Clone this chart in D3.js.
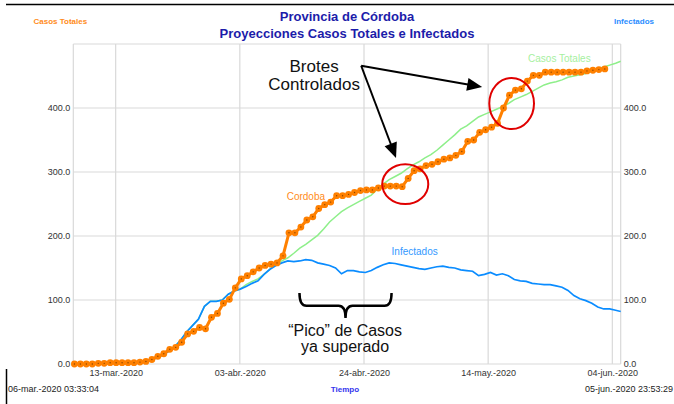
<!DOCTYPE html>
<html><head><meta charset="utf-8">
<script src="https://cdn.jsdelivr.net/npm/d3@7"></script>
<style>
html,body{margin:0;padding:0;background:#fff;}
svg{display:block;font-family:"Liberation Sans",Arial,Helvetica,sans-serif;}
</style></head>
<body>
<svg id="chart" width="674" height="404"></svg>
<script>
// ---------- DATA ----------
const startTime = "2020-03-06T03:33:04";
const endTime = "2020-06-05T23:53:29";
const startLabel = "06-mar.-2020 03:33:04";
const endLabel = "05-jun.-2020 23:53:29";

const xTickDates = ["2020-03-13T06:10","2020-04-03T02:10","2020-04-23T22:10","2020-05-14T18:10","2020-06-04T14:10"];
const xTickLabels = ["13-mar.-2020","03-abr.-2020","24-abr.-2020","14-may.-2020","04-jun.-2020"];
const yTicks = [0,100,200,300,400];

// Observed daily cumulative cases, Córdoba (one point per day from 06-mar)
const cordobaFirstDay = "2020-03-06T08:00";
const cordoba = [0,0,0,0,1,1,2,2,2,2,2,3,4,7,12,16,23,26,34,47,51,57,55,73,79,95,101,119,133,138,
  144,150,154,156,158,169,205,205,214,225,230,243,249,253,263,263,265,268,271,272,
  272,275,278,278,278,277,290,302,305,310,312,316,320,322,326,332,348,350,362,366,
  370,376,400,420,428,430,442,451,451,456,456,456,456,456,456,456,458,459,460,461];

// Model projections (daily, from 06-mar, last value at end of run)
const modelDays = [0,1,2,3,4,5,6,7,8,9,10,11,12,13,14,15,16,17,18,19,20,21,22,23,24,25,26,27,28,29,
  30,31,32,33,34,35,36,37,38,39,40,41,42,43,44,45,46,47,48,49,50,51,52,53,54,55,56,57,58,59,
  60,61,62,63,64,65,66,67,68,69,70,71,72,73,74,75,76,77,78,79,80,81,82,83,84,85,86,87,88,89,90,91,91.85];
const infectados = [0,0,0,0,0,1,1,1,2,2,2,3,4,6,10,14,20,27,37,50,60,70,90,98,98,100,109,114,117,121,
  126,130,140,148,154,158,161,160,161,163,162,158,156,154,150,141,146,146,144,143,
  146,151,155,158,157,155,153,151,149,148,150,152,153,151,150,147,146,145,138,140,
  143,139,141,138,132,130,129,126,125,124,124,122,120,115,107,102,99,95,89,86,86,84,82];
const casosTotales = [0,0,0,0,0,1,1,1,2,2,2,3,4,6,10,14,20,27,37,50,60,70,90,98,98,100,109,114,117,124,
  129,133,140,148,156,161,166,173,181,187,194,201,211,222,230,238,244,249,254,259,
  264,273,281,288,293,298,305,311,316,322,327,334,342,350,358,367,372,379,386,390,
  394,398,402,407,413,417,421,426,431,436,439,441,444,448,450,452,454,457,461,464,467,470,473];

// Annotations (position in days since start, value)
const notesText = [
  {d:40.4, v:456, t:"Brotes", size:17},
  {d:40.4, v:428, t:"Controlados", size:17},
  {d:45.6, v:44, t:"\u201cPico\u201d de Casos", size:16},
  {d:45.6, v:19, t:"ya superado", size:16}
];
const arrowFrom = {d:48.3, v:466};
const arrowTips = [{d:68.6, v:433},{d:54.15, v:322}];
const ellipses = [{d:55.7, v:281, rd:3.86, rv:31},{d:73.55, v:407, rd:3.75, rv:40}];
const brace = {d1:37.95, d2:53.4, vTop:111, vMid:91, vTip:72};

// ---------- CHART ----------
const svg = d3.select("#chart");
const W = 674, H = 404;
const L = 73.3, R = 620.7, T = 44, B = 364;
const t0 = new Date(startTime), t1 = new Date(endTime);
const x = d3.scaleTime().domain([t0, t1]).range([L, R]);
const y = d3.scaleLinear().domain([0, 500]).range([B, T]);
const dayDate = d => new Date(+t0 + d * 864e5);
const xd = d => x(dayDate(d));

// Window border lines
svg.append("line").attr("x1",6).attr("x2",W).attr("y1",4.5).attr("y2",4.5).attr("stroke","#000").attr("stroke-width",1.5);
svg.append("line").attr("x1",6.5).attr("x2",6.5).attr("y1",369).attr("y2",H).attr("stroke","#000").attr("stroke-width",1.5);

// Grid
const grid = svg.append("g").attr("stroke","#d9d9d9").attr("stroke-width",1.2);
yTicks.concat([500]).forEach(v => grid.append("line").attr("x1",L).attr("x2",R).attr("y1",y(v)).attr("y2",y(v)));
xTickDates.forEach(s => grid.append("line").attr("x1",x(new Date(s))).attr("x2",x(new Date(s))).attr("y1",T).attr("y2",B));
grid.append("line").attr("x1",L).attr("x2",L).attr("y1",T).attr("y2",B);
grid.append("line").attr("x1",R).attr("x2",R).attr("y1",T).attr("y2",B);

// Axes
const fmt = d3.format(".1f");
const axL = svg.append("g").attr("transform",`translate(${L},0)`)
  .call(d3.axisLeft(y).tickValues(yTicks).tickFormat(fmt).tickSize(0).tickPadding(3));
const axR = svg.append("g").attr("transform",`translate(${R},0)`)
  .call(d3.axisRight(y).tickValues(yTicks).tickFormat(fmt).tickSize(0).tickPadding(3));
const axB = svg.append("g").attr("transform",`translate(0,${B})`)
  .call(d3.axisBottom(x).tickValues(xTickDates.map(s=>new Date(s))).tickFormat((d,i)=>xTickLabels[i]).tickSize(0).tickPadding(6));
[axL,axR,axB].forEach(a => {
  a.select(".domain").remove();
  a.selectAll("text").attr("font-size",9).attr("fill","#333").attr("font-family",'"Liberation Sans",Arial,sans-serif');
});

// Lines
const modelLine = vals => d3.line().x((d,i)=>xd(modelDays[i])).y(d=>y(d))(vals);
svg.append("path").attr("d",modelLine(casosTotales)).attr("fill","none").attr("stroke","#8eef8a").attr("stroke-width",1.5);
svg.append("path").attr("d",modelLine(infectados)).attr("fill","none").attr("stroke","#0a8cff").attr("stroke-width",1.7);

const cDate = i => d3.timeDay.offset(new Date(cordobaFirstDay), i);
svg.append("path").attr("d", d3.line().x((d,i)=>x(cDate(i))).y(d=>y(d))(cordoba))
  .attr("fill","none").attr("stroke","#ff8000").attr("stroke-width",3).attr("stroke-linejoin","round");
const dots = svg.append("g");
dots.selectAll("circle.o").data(cordoba).join("circle").attr("class","o")
  .attr("cx",(d,i)=>x(cDate(i))).attr("cy",d=>y(d)).attr("r",3.4).attr("fill","#ff8000");
dots.selectAll("circle.c").data(cordoba).join("circle").attr("class","c")
  .attr("cx",(d,i)=>x(cDate(i))).attr("cy",d=>y(d)).attr("r",0.7).attr("fill","#8a4500");

// Series labels
svg.append("text").attr("x",xd(35.8)).attr("y",y(257)).attr("font-size",10).attr("fill","#ff8c1a").text("Cordoba");
svg.append("text").attr("x",xd(53.4)).attr("y",y(171)).attr("font-size",10).attr("fill","#3399ff").text("Infectados");
svg.append("text").attr("x",xd(76.3)).attr("y",y(472)).attr("font-size",10).attr("fill","#a6f0a0").text("Casos Totales");

// Red ellipses
ellipses.forEach(e => {
  svg.append("ellipse").attr("cx",xd(e.d)).attr("cy",y(e.v))
    .attr("rx",xd(e.d+e.rd)-xd(e.d)).attr("ry",y(e.v-e.rv)-y(e.v))
    .attr("fill","none").attr("stroke","#e00000").attr("stroke-width",2);
});

// Arrows
const ax0 = xd(arrowFrom.d), ay0 = y(arrowFrom.v);
arrowTips.forEach(tp => {
  const tx = xd(tp.d), ty = y(tp.v);
  const dx = tx-ax0, dy = ty-ay0, len = Math.hypot(dx,dy), ux = dx/len, uy = dy/len;
  const hl = 15, hw = 6.5;
  const bx = tx-ux*hl, by = ty-uy*hl;
  svg.append("line").attr("x1",ax0).attr("y1",ay0).attr("x2",bx+ux*2).attr("y2",by+uy*2).attr("stroke","#000").attr("stroke-width",2);
  svg.append("path").attr("d",`M${tx},${ty}L${bx-uy*hw},${by+ux*hw}L${bx+uy*hw},${by-ux*hw}Z`).attr("fill","#000");
});

// Brace
{
  const x1 = xd(brace.d1), x2 = xd(brace.d2), xm = (x1+x2)/2;
  const yt = y(brace.vTop), ym = y(brace.vMid), yb = y(brace.vTip), r = 7;
  const p = `M${x1},${yt}Q${x1},${ym} ${x1+r},${ym}L${xm-r},${ym}Q${xm},${ym} ${xm},${yb}Q${xm},${ym} ${xm+r},${ym}L${x2-r},${ym}Q${x2},${ym} ${x2},${yt}`;
  svg.append("path").attr("d",p).attr("fill","none").attr("stroke","#000").attr("stroke-width",2.5);
}

// Annotation texts
notesText.forEach(n => svg.append("text").attr("x",xd(n.d)).attr("y",y(n.v))
  .attr("text-anchor","middle").attr("font-size",n.size).attr("fill","#111").text(n.t));

// Titles
svg.append("text").attr("x",347).attr("y",21).attr("text-anchor","middle").attr("font-size",13).attr("font-weight","bold").attr("fill","#1c1caa").text("Provincia de Córdoba");
svg.append("text").attr("x",347).attr("y",38).attr("text-anchor","middle").attr("font-size",13).attr("font-weight","bold").attr("fill","#1c1caa").text("Proyecciones Casos Totales e Infectados");
svg.append("text").attr("x",33.5).attr("y",24).attr("font-size",8).attr("font-weight","bold").attr("fill","#ff8c1a").text("Casos Totales");
svg.append("text").attr("x",654).attr("y",24).attr("text-anchor","end").attr("font-size",8).attr("font-weight","bold").attr("fill","#2a8cff").text("Infectados");
svg.append("text").attr("x",345).attr("y",392).attr("text-anchor","middle").attr("font-size",8).attr("font-weight","bold").attr("fill","#3333ee").text("Tiempo");
svg.append("text").attr("x",8).attr("y",392).attr("font-size",9).attr("fill","#222").text(startLabel);
svg.append("text").attr("x",673).attr("y",392).attr("text-anchor","end").attr("font-size",9).attr("fill","#222").text(endLabel);
</script>
</body></html>
